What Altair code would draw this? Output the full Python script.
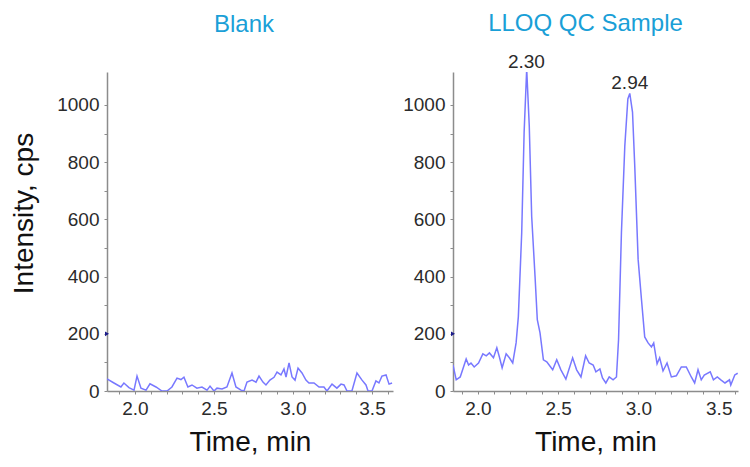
import altair as alt
import pandas as pd

# ---------------- data ----------------
blank_time = [1.823, 1.867, 1.911, 1.930, 1.962, 1.994, 2.013, 2.038, 2.070, 2.095,
              2.133, 2.171, 2.203, 2.234, 2.266, 2.291, 2.310, 2.335, 2.361, 2.392,
              2.424, 2.456, 2.475, 2.500, 2.519, 2.551, 2.582, 2.614, 2.639, 2.671,
              2.690, 2.709, 2.741, 2.766, 2.785, 2.810, 2.829, 2.854, 2.880, 2.899,
              2.924, 2.943, 2.956, 2.975, 2.994, 3.013, 3.032, 3.057, 3.082, 3.101,
              3.133, 3.165, 3.196, 3.215, 3.247, 3.278, 3.304, 3.323, 3.342, 3.373,
              3.405, 3.437, 3.462, 3.475, 3.500, 3.525, 3.544, 3.563, 3.589, 3.608,
              3.627]
blank_intensity = [42, 28, 14, 28, 12, 3, 52, 10, 3, 25,
                   14, 0, 0, 14, 45, 40, 48, 14, 21, 10,
                   14, 3, 17, 0, 10, 7, 14, 63, 14, 3,
                   0, 31, 38, 31, 52, 31, 21, 38, 48, 66,
                   56, 77, 49, 98, 49, 38, 80, 63, 38, 28,
                   28, 14, 14, 0, 24, 10, 24, 21, 0, 0,
                   63, 38, 21, 0, 0, 35, 28, 52, 56, 24,
                   28]

qc_time = [1.845, 1.865, 1.890, 1.927, 1.942, 1.957, 1.977, 2.004, 2.031, 2.052,
           2.072, 2.097, 2.118, 2.134, 2.151, 2.176, 2.196, 2.217, 2.238, 2.252,
           2.273, 2.288, 2.304, 2.320, 2.335, 2.356, 2.370, 2.387, 2.408, 2.429,
           2.453, 2.466, 2.491, 2.517, 2.548, 2.590, 2.615, 2.642, 2.671, 2.693,
           2.718, 2.735, 2.760, 2.776, 2.797, 2.818, 2.842, 2.863, 2.876, 2.894,
           2.915, 2.934, 2.946, 2.963, 2.977, 2.998, 3.019, 3.039, 3.060, 3.081,
           3.095, 3.116, 3.132, 3.153, 3.178, 3.205, 3.236, 3.267, 3.298, 3.329,
           3.350, 3.371, 3.391, 3.410, 3.447, 3.467, 3.491, 3.513, 3.539, 3.567,
           3.575, 3.600, 3.618]
qc_intensity = [91, 39, 49, 112, 91, 98, 84, 98, 130, 123,
                133, 116, 151, 119, 81, 130, 116, 98, 168, 260,
                554, 905, 1125, 926, 611, 400, 249, 203, 109, 102,
                84, 74, 109, 74, 42, 116, 74, 49, 123, 98,
                91, 67, 77, 46, 28, 49, 39, 49, 179, 554,
                856, 1021, 1040, 975, 786, 460, 319, 189, 168, 154,
                168, 95, 116, 70, 98, 49, 53, 84, 84, 49,
                28, 74, 39, 56, 67, 39, 49, 39, 28, 39,
                21, 56, 62]

peak_time = [2.302, 2.946]
peak_intensity = [1115, 1040]
peak_label = ["2.30", "2.94"]

marker_intensity = [200]

blank_domain = [1.823, 3.633]
qc_domain = [1.845, 3.620]
y_domain = [0, 1115]

x_tick_values = [1.9, 2.0, 2.1, 2.2, 2.3, 2.4, 2.5, 2.6, 2.7, 2.8, 2.9,
                 3.0, 3.1, 3.2, 3.3, 3.4, 3.5, 3.6]
y_tick_values = [0, 100, 200, 300, 400, 500, 600, 700, 800, 900, 1000]

FONT = "Liberation Sans"
LINE_COLOR = "#7878ff"
TITLE_COLOR = "#1a9fd7"
AXIS_COLOR = "#8c8c8c"
LABEL_COLOR = "#2b2b2b"


def panel(time, intensity, domain, title, dx, offset, y_title, width, peaks=False):
    df = pd.DataFrame({"time": time, "intensity": intensity})
    x_axis = alt.Axis(
        title="Time, min", values=x_tick_values, tickCount=100,
        labelExpr="(round(datum.value * 10) % 5 == 0) ? format(datum.value, '.1f') : ''",
        labelFlush=False, labelOverlap=False,
        tickSize=3, labelPadding=5, titlePadding=10,
    )
    y_kwargs = dict(
        values=y_tick_values, tickCount=100,
        labelExpr="(datum.value % 200 == 0) ? format(datum.value, 'd') : ''",
        labelOverlap=False, tickSize=3, labelPadding=5,
    )
    if y_title:
        y_kwargs["title"] = y_title
        y_kwargs["titlePadding"] = 18
        y_kwargs["titleY"] = 141
    else:
        y_kwargs["title"] = ""
    x = alt.X("time:Q", scale=alt.Scale(domain=domain, nice=False, zero=False), axis=x_axis)
    y = alt.Y("intensity:Q", scale=alt.Scale(domain=y_domain, nice=False), axis=alt.Axis(**y_kwargs))

    line = alt.Chart(df).mark_line(color=LINE_COLOR, strokeWidth=1.5, clip=True).encode(x=x, y=y)

    mk = pd.DataFrame({"time": [domain[0]], "intensity": marker_intensity})
    marker = alt.Chart(mk).mark_point(
        shape="triangle-right", filled=True, size=22, color="#1c1c8a", opacity=1, clip=False
    ).encode(x="time:Q", y="intensity:Q")

    layers = [line, marker]
    if peaks:
        pk = pd.DataFrame({"time": peak_time, "intensity": peak_intensity, "label": peak_label})
        txt = alt.Chart(pk).mark_text(
            font=FONT, fontSize=19, color="#2b2b2b", baseline="bottom", dy=0, clip=False
        ).encode(x="time:Q", y="intensity:Q", text="label:N")
        layers.append(txt)

    return alt.layer(*layers).properties(
        width=width, height=319,
        title=alt.TitleParams(
            text=title, font=FONT, fontSize=24, fontWeight="normal", color=TITLE_COLOR,
            anchor="middle", frame="group", dx=dx, offset=offset,
        ),
    )


left = panel(blank_time, blank_intensity, blank_domain, "Blank", -6, 35, "Intensity, cps", 286)
right = panel(qc_time, qc_intensity, qc_domain, "LLOQ QC Sample", -10, 17, None, 285, peaks=True)

chart = alt.hconcat(left, right, spacing=9).properties(
    padding={"left": 2, "top": 4, "right": 2, "bottom": 2},
    background="white",
).configure_view(stroke=None).configure_axis(
    grid=False, domainColor=AXIS_COLOR, domainWidth=1.5, tickColor=AXIS_COLOR, tickWidth=1,
    labelFont=FONT, labelFontSize=19, labelColor=LABEL_COLOR,
    titleFont=FONT, titleFontSize=28, titleFontWeight="normal", titleColor="#111111",
)

chart.save("out.html", embed_options={"renderer": "svg", "actions": False})
